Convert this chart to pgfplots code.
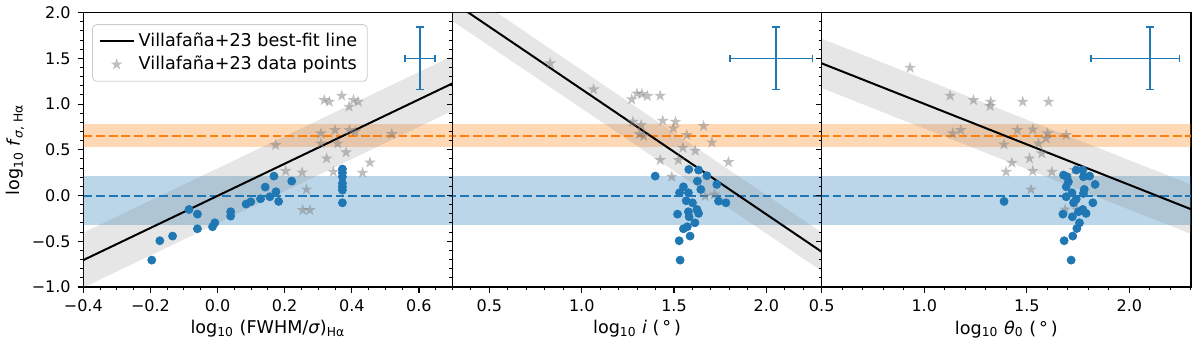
\documentclass[border=0pt]{standalone}
\usepackage{fontspec}
\setmainfont{DejaVu Sans}
\usepackage{pgfplots}
\pgfplotsset{compat=1.18}
\definecolor{tabblue}{RGB}{31,119,180}
\definecolor{taborange}{RGB}{255,127,14}
\pgfdeclareplotmark{fstar}{%
  \pgfpathmoveto{\pgfpointpolar{90}{\pgfplotmarksize}}%
  \pgfpathlineto{\pgfpointpolar{126}{0.382\pgfplotmarksize}}%
  \pgfpathlineto{\pgfpointpolar{162}{\pgfplotmarksize}}%
  \pgfpathlineto{\pgfpointpolar{198}{0.382\pgfplotmarksize}}%
  \pgfpathlineto{\pgfpointpolar{234}{\pgfplotmarksize}}%
  \pgfpathlineto{\pgfpointpolar{270}{0.382\pgfplotmarksize}}%
  \pgfpathlineto{\pgfpointpolar{306}{\pgfplotmarksize}}%
  \pgfpathlineto{\pgfpointpolar{342}{0.382\pgfplotmarksize}}%
  \pgfpathlineto{\pgfpointpolar{18}{\pgfplotmarksize}}%
  \pgfpathlineto{\pgfpointpolar{54}{0.382\pgfplotmarksize}}%
  \pgfpathclose\pgfusepathqfill}
\newcommand{\fs}{\fontsize{8}{9.6}\selectfont}
\newcommand{\fl}{\fontsize{8.8}{10.5}\selectfont}
\pgfplotsset{
  panel/.style={
    scale only axis, width=184.6pt, height=137.15pt,
    ymin=-1, ymax=2,
    ytick={-1,-0.5,0,0.5,1,1.5,2},
    minor ytick={-0.9,-0.8,-0.7,-0.6,-0.4,-0.3,-0.2,-0.1,0.1,0.2,0.3,0.4,0.6,0.7,0.8,0.9,1.1,1.2,1.3,1.4,1.6,1.7,1.8,1.9},
    tick align=outside, xtick pos=left, ytick pos=left,
    major tick length=2.8pt, minor tick length=1.6pt,
    every tick/.style={black, line width=0.6pt},
    every minor tick/.style={black, line width=0.5pt},
    axis line style={line width=0.64pt},
    tick label style={font=\fs},
    label style={font=\fl},
    xlabel shift=-2.5pt,
    clip=true,
  },
  bandO/.style={fill=taborange, fill opacity=0.3, draw=none, forget plot},
  bandB/.style={fill=tabblue, fill opacity=0.3, draw=none, forget plot},
  bandG/.style={fill=gray, fill opacity=0.2, draw=none, forget plot},
  dashO/.style={taborange, line width=0.75pt, dash pattern=on 4.4pt off 1.9pt, forget plot},
  dashB/.style={tabblue, line width=0.75pt, dash pattern=on 4.4pt off 1.9pt, forget plot},
  fitline/.style={black, line width=1pt},
  stars/.style={only marks, color=gray, mark=fstar, mark size=3.1pt, mark options={fill=gray, fill opacity=0.5, draw=none}},
  dots/.style={only marks, color=tabblue, mark=*, mark size=2pt, mark options={fill=tabblue, draw=none}, forget plot},
  ebar/.style={tabblue, line width=0.9pt, only marks, mark=*, mark size=0.01pt, forget plot,
    error bars/.cd, x dir=both, x explicit, y dir=both, y explicit,
    error bar style={line width=0.9pt, tabblue}},
  capH/.style={only marks, tabblue, mark=-, mark size=1.9pt, mark options={line width=0.9pt}, forget plot},
  capV/.style={only marks, tabblue, mark=|, mark size=1.9pt, mark options={line width=0.9pt}, forget plot},
}
\begin{document}
\begin{tikzpicture}
% ---------------- panel 1
\begin{axis}[panel, at={(0pt,0pt)}, anchor=south west,
  xmin=-0.4, xmax=0.7,
  xtick={-0.4,-0.2,0,0.2,0.4,0.6},
  xticklabels={−0.4,−0.2,0.0,0.2,0.4,0.6},
  minor xtick={-0.35,-0.3,-0.25,-0.15,-0.1,-0.05,0.05,0.1,0.15,0.25,0.3,0.35,0.45,0.5,0.55,0.65,0.7},
  yticklabels={−1.0,−0.5,0.0,0.5,1.0,1.5,2.0},
  xlabel={log\textsubscript{10} (FWHM/\textit{σ})\textsubscript{Hα}},
  ylabel={log\textsubscript{10} \textit{f}\textsubscript{\textit{σ}, Hα}},
  ylabel shift=-3pt,
  legend style={at={(0.024,0.958)}, anchor=north west, draw=black!20, rounded corners=2pt,
    fill=white, fill opacity=0.8, text opacity=1, font=\fl, inner xsep=3pt, inner ysep=2.6pt, row sep=0pt,
    nodes={inner ysep=1.6pt}},
  legend cell align=left,
]
\addplot[bandO] coordinates {(-1,0.527) (1,0.527) (1,0.778) (-1,0.778)} -- cycle;
\addplot[bandB] coordinates {(-1,-0.323) (1,-0.323) (1,0.213) (-1,0.213)} -- cycle;
\addplot[bandG] coordinates {(-0.5,-1.1815) (0.8,1.1026) (0.8,1.7026) (-0.5,-0.5815)} -- cycle;
\addplot[dashO] coordinates {(-1,0.65) (1,0.65)};
\addplot[dashB] coordinates {(-1,-0.005) (1,-0.005)};
\addplot[fitline] coordinates {(-0.5,-0.8815) (0.8,1.4026)};
\addlegendentry{Villafaña+23 best-fit line}
\addplot[stars] coordinates {
(0.173,0.552) (0.203,0.268) (0.252,0.253) (0.265,0.067) (0.254,-0.159) (0.275,-0.159)
(0.318,1.044) (0.333,1.026) (0.370,1.092) (0.405,1.044) (0.419,1.026) (0.392,0.972)
(0.308,0.680) (0.350,0.716) (0.393,0.716) (0.410,0.698) (0.519,0.672) (0.308,0.570)
(0.358,0.570) (0.325,0.406) (0.345,0.260) (0.383,0.472) (0.454,0.362) (0.432,0.249)
};
\addlegendentry{Villafaña+23 data points}
\addplot[dots] coordinates {
(-0.196,-0.706) (-0.172,-0.494) (-0.134,-0.443) (-0.085,-0.152) (-0.060,-0.203) (-0.060,-0.363)
(-0.015,-0.341) (-0.008,-0.298) (0.039,-0.177) (0.039,-0.225) (0.085,-0.093) (0.099,-0.068)
(0.128,-0.035) (0.142,0.093) (0.156,-0.013) (0.168,0.213) (0.174,0.042) (0.182,-0.064)
(0.221,0.158) (0.372,0.290) (0.372,0.250) (0.372,0.206) (0.372,0.133) (0.372,0.096)
(0.372,0.060) (0.372,-0.079)
};
\addplot[ebar] coordinates {(0.603,1.5) +- (0.044,0.34)};
\addplot[capH] coordinates {(0.603,1.84) (0.603,1.16)};
\addplot[capV] coordinates {(0.559,1.5) (0.647,1.5)};
\end{axis}
% ---------------- panel 2
\begin{axis}[panel, at={(184.6pt,0pt)}, anchor=south west,
  xmin=0.3, xmax=2.3,
  xtick={0.5,1,1.5,2},
  xticklabels={0.5,1.0,1.5,2.0},
  minor xtick={0.3,0.4,0.6,0.7,0.8,0.9,1.1,1.2,1.3,1.4,1.6,1.7,1.8,1.9,2.1,2.2,2.3},
  yticklabels={},
  xlabel={log\textsubscript{10} \textit{i} (\,°\,)},
]
\addplot[bandO] coordinates {(0,0.527) (3,0.527) (3,0.778) (0,0.778)} -- cycle;
\addplot[bandB] coordinates {(0,-0.323) (3,-0.323) (3,0.213) (0,0.213)} -- cycle;
\addplot[bandG] coordinates {(0.2,2.0457) (2.4,-0.9617) (2.4,-0.5417) (0.2,2.4657)} -- cycle;
\addplot[dashO] coordinates {(0,0.65) (3,0.65)};
\addplot[dashB] coordinates {(0,-0.005) (3,-0.005)};
\addplot[fitline, forget plot] coordinates {(0.2,2.2557) (2.4,-0.7517)};
\addplot[stars, forget plot] coordinates {
(0.829,1.446) (1.064,1.161) (1.271,1.052) (1.299,1.117) (1.326,1.110) (1.356,1.088)
(1.425,1.092) (1.277,0.807) (1.322,0.771) (1.313,0.672) (1.335,0.651) (1.439,0.818)
(1.508,0.807) (1.497,0.735) (1.660,0.760) (1.569,0.661) (1.705,0.581) (1.548,0.523)
(1.615,0.490) (1.425,0.388) (1.524,0.388) (1.795,0.366) (1.488,0.206) (1.669,-0.006)
(1.719,0.012)
};
\addplot[dots] coordinates {
(1.398,0.213) (1.580,0.286) (1.633,0.279) (1.678,0.217) (1.627,0.158) (1.732,0.122)
(1.551,0.096) (1.530,0.031) (1.578,0.031) (1.645,0.067) (1.566,-0.057) (1.600,-0.079)
(1.741,-0.061) (1.781,-0.079) (1.519,-0.203) (1.578,-0.177) (1.624,-0.152) (1.582,-0.232)
(1.633,-0.195) (1.613,-0.298) (1.551,-0.363) (1.572,-0.341) (1.528,-0.494) (1.587,-0.443)
(1.533,-0.706)
};
\addplot[ebar] coordinates {(2.052,1.5) += (0.198,0.34) -= (0.248,0.34)};
\addplot[capH] coordinates {(2.052,1.84) (2.052,1.16)};
\addplot[capV] coordinates {(1.804,1.5) (2.250,1.5)};
\end{axis}
% ---------------- panel 3
\begin{axis}[panel, at={(369.2pt,0pt)}, anchor=south west,
  xmin=0.5, xmax=2.3,
  xtick={0.5,1,1.5,2},
  xticklabels={0.5,1.0,1.5,2.0},
  minor xtick={0.6,0.7,0.8,0.9,1.1,1.2,1.3,1.4,1.6,1.7,1.8,1.9,2.1,2.2,2.3},
  yticklabels={},
  xlabel={log\textsubscript{10} \textit{θ}\textsubscript{0} (\,°\,)},
]
\addplot[bandO] coordinates {(0,0.527) (3,0.527) (3,0.778) (0,0.778)} -- cycle;
\addplot[bandB] coordinates {(0,-0.323) (3,-0.323) (3,0.213) (0,0.213)} -- cycle;
\addplot[bandG] coordinates {(0.4,1.2646) (2.4,-0.5074) (2.4,0.0326) (0.4,1.8046)} -- cycle;
\addplot[dashO] coordinates {(0,0.65) (3,0.65)};
\addplot[dashB] coordinates {(0,-0.005) (3,-0.005)};
\addplot[fitline, forget plot] coordinates {(0.4,1.5346) (2.4,-0.2374)};
\addplot[stars, forget plot] coordinates {
(0.931,1.398) (1.126,1.092) (1.240,1.044) (1.324,1.026) (1.321,0.979) (1.480,1.026)
(1.606,1.026) (1.139,0.680) (1.178,0.716) (1.454,0.716) (1.529,0.723) (1.601,0.680)
(1.692,0.662) (1.594,0.625) (1.389,0.559) (1.557,0.570) (1.573,0.461) (1.513,0.406)
(1.427,0.359) (1.399,0.260) (1.529,0.268) (1.622,0.260) (1.520,0.067) (1.687,-0.152)
(1.744,-0.152) (1.733,0.280)
};
\addplot[dots] coordinates {
(1.389,-0.064) (1.679,0.224) (1.696,0.206) (1.741,0.279) (1.773,0.279) (1.806,0.213)
(1.776,0.206) (1.703,0.151) (1.833,0.122) (1.692,0.096) (1.780,0.067) (1.776,0.023)
(1.720,0.031) (1.692,-0.013) (1.741,-0.039) (1.728,-0.079) (1.822,-0.079) (1.773,-0.152)
(1.789,-0.195) (1.676,-0.203) (1.722,-0.232) (1.752,-0.177) (1.757,-0.298) (1.744,-0.360)
(1.724,-0.443) (1.682,-0.494) (1.716,-0.706)
};
\addplot[ebar] coordinates {(2.101,1.5) += (0.143,0.34) -= (0.288,0.34)};
\addplot[capH] coordinates {(2.101,1.84) (2.101,1.16)};
\addplot[capV] coordinates {(1.813,1.5) (2.244,1.5)};
\end{axis}
\pgfresetboundingbox
\path[use as bounding box] (-41.65pt,-27.5pt) rectangle (558.35pt,143.5pt);
\end{tikzpicture}
\end{document}
